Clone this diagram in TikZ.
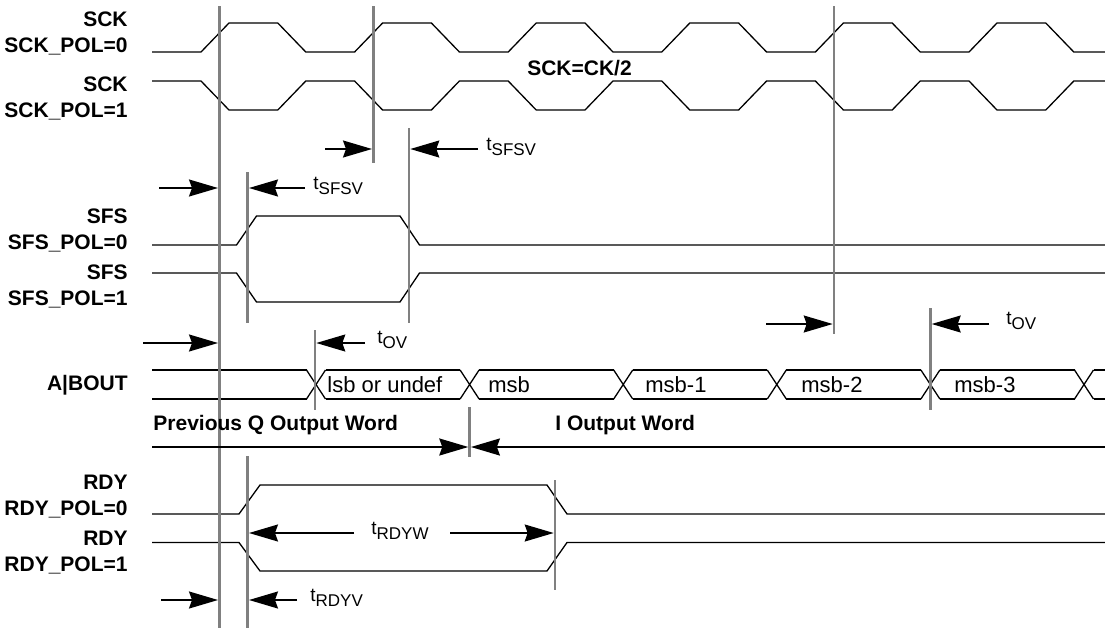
\documentclass[tikz,border=0pt]{standalone}
\usepackage{fontspec}
\setmainfont{Liberation Sans}
\usetikzlibrary{arrows.meta}
\newcommand{\tsub}[1]{t\raisebox{-2.5pt}{\fontsize{8.5}{9}\selectfont #1}}

\begin{document}
\begin{tikzpicture}[x=0.5pt, y=-0.5pt, >={Stealth[length=14.5pt,width=8.5pt,inset=1.5pt]},
    wave/.style={line width=0.65pt},
    edge/.style={line width=1.3pt, black!50},
    dim/.style={line width=0.8pt, ->, shorten >=0.65pt},
    sig/.style={font=\fontsize{10.5}{13}\selectfont\bfseries, align=right, anchor=east, inner sep=0pt},
    val/.style={font=\fontsize{11}{12}\selectfont, anchor=west, inner sep=0pt},
    tlab/.style={font=\fontsize{9.5}{11}\selectfont, anchor=west, inner sep=0pt}]

        \useasboundingbox (0,0) rectangle (1105,628);

        % Signal names
        \node[sig] (sck0lab) at (128,33) {SCK\\SCK\_POL=0};
        \node[sig] (sck1lab) at (128,98) {SCK\\SCK\_POL=1};
        \node[sig] (sfs0lab) at (128,230) {SFS\\SFS\_POL=0};
        \node[sig] (sfs1lab) at (128,286) {SFS\\SFS\_POL=1};
        \node[sig] (boutlab) at (128,385) {A\textbar BOUT};
        \node[sig] (rdy0lab) at (128,497) {RDY\\RDY\_POL=0};
        \node[sig] (rdy1lab) at (128,553) {RDY\\RDY\_POL=1};

        % Clock, both polarities
        \draw[wave] (152,52) \foreach \k in {0,...,5} {-- ({201+153.6*\k},52) -- ({229+153.6*\k},23) -- ({277.8+153.6*\k},23) -- ({305.8+153.6*\k},52)} -- (1105,52);
        \draw[wave] (152,81) \foreach \k in {0,...,5} {-- ({201+153.6*\k},81) -- ({229+153.6*\k},110) -- ({277.8+153.6*\k},110) -- ({305.8+153.6*\k},81)} -- (1105,81);
        \node[font=\fontsize{10.5}{12}\selectfont\bfseries] (ckdiv) at (579.5,68) {SCK=CK/2};

        % Frame sync
        \draw[wave] (152,245) -- (236.5,245) -- (256.5,216) -- (400,216) -- (419.5,245) -- (1105,245);
        \draw[wave] (152,273) -- (236.5,273) -- (256.5,302) -- (400,302) -- (419.5,273) -- (1105,273);

        % Data bus
        \draw[wave] (152,370) -- (306.5,370) (152,399) -- (306.5,399);
        \foreach \k in {0,...,5}
            \draw[wave] ({316+153.6*\k-9.5},370) -- ({316+153.6*\k+9.5},399) ({316+153.6*\k-9.5},399) -- ({316+153.6*\k+9.5},370);
        \foreach \k in {0,...,4}
            \draw[wave] ({325.5+153.6*\k},370) -- ({460.1+153.6*\k},370) ({325.5+153.6*\k},399) -- ({460.1+153.6*\k},399);
        \draw[wave] (1093.5,370) -- (1105,370) (1093.5,399) -- (1105,399);
        \node[val] (lsb) at (327,385) {lsb or undef};
        \node[val] (msb) at (488,385) {msb};
        \node[val] (msb1) at (645,385) {msb-1};
        \node[val] (msb2) at (801,385) {msb-2};
        \node[val] (msb3) at (954,385) {msb-3};

        % Ready, both polarities
        \draw[wave] (152,514) -- (239,514) -- (260,485) -- (547,485) -- (567,514) -- (1105,514);
        \draw[wave] (152,542.5) -- (239,542.5) -- (260,571) -- (547,571) -- (567,542.5) -- (1105,542.5);

        % Reference edges (gray)
        \draw[edge] (219.3,6) coordinate (e1) -- (219.3,628);
        \draw[edge] (247.7,172) coordinate (e2) -- (247.7,323);
        \draw[edge] (247.7,456) coordinate (e2b) -- (247.7,628);
        \draw[edge] (373.3,6) coordinate (e3) -- (373.3,163);
        \draw[edge] (409,128) coordinate (e4) -- (409,323);
        \draw[edge] (315,330) coordinate (e5) -- (315,410);
        \draw[edge] (834,6) coordinate (e6) -- (834,334);
        \draw[edge] (930.4,308) coordinate (e7) -- (930.4,410);
        \draw[edge] (469.6,407) coordinate (e8) -- (469.6,457);
        \draw[edge] (555,480) coordinate (e9) -- (555,590);

        % tSFSV after clock edge
        \draw[dim] (325,149) -- (325,149 -| e3);
        \draw[dim] (478,149) -- (478,149 -| e4);
        \node[tlab] (tsfsv1) at (486,147) {\tsub{SFSV}};

        % tSFSV after common edge
        \draw[dim] (159,188) -- (159,188 -| e1);
        \draw[dim] (305,188) -- (305,188 -| e2);
        \node[tlab] (tsfsv2) at (313,186) {\tsub{SFSV}};

        % tOV
        \draw[dim] (143,343) -- (143,343 -| e1);
        \draw[dim] (365,343) -- (365,343 -| e5);
        \node[tlab] (tov1) at (377,340) {\tsub{OV}};
        \draw[dim] (766,324) -- (766,324 -| e6);
        \draw[dim] (989,324) -- (989,324 -| e7);
        \node[tlab] (tov2) at (1006,321) {\tsub{OV}};

        % Output words
        \node[font=\fontsize{10.5}{12}\selectfont\bfseries, anchor=west, inner sep=0pt] (prevq) at (153,425) {Previous Q Output Word};
        \node[font=\fontsize{10.5}{12}\selectfont\bfseries, anchor=west, inner sep=0pt] (iword) at (555,425) {I Output Word};
        \draw[line width=1pt, ->, shorten >=0.65pt] (152,447) -- (152,447 -| e8);
        \draw[line width=1pt, ->, shorten >=0.65pt] (1105,447) -- (1105,447 -| e8);

        % tRDYW and tRDYV
        \draw[dim] (354,533) -- (354,533 -| e2b);
        \node[tlab] (trdyw) at (371,531) {\tsub{RDYW}};
        \draw[dim] (450,533) -- (450,533 -| e9);
        \draw[dim] (161,600) -- (161,600 -| e1);
        \draw[dim] (297,600) -- (297,600 -| e2b);
        \node[tlab] (trdyv) at (310,598) {\tsub{RDYV}};

\end{tikzpicture}
\end{document}
